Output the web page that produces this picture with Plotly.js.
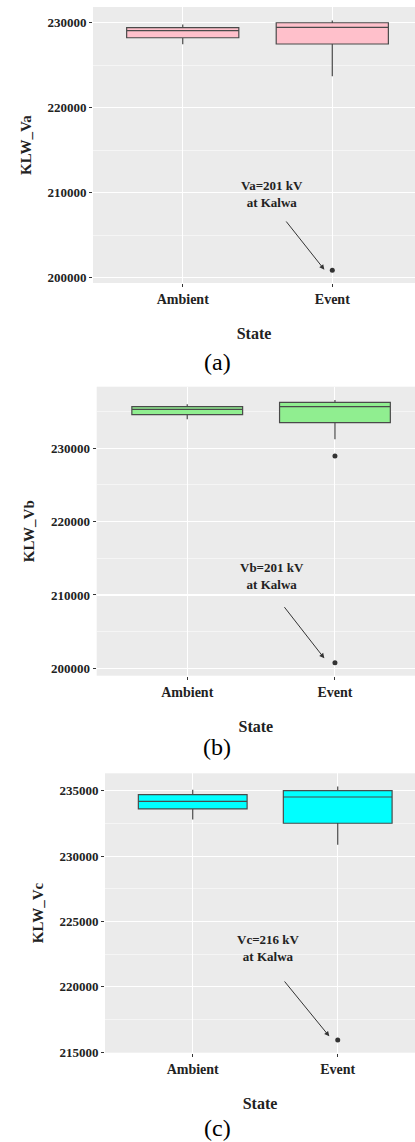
<!DOCTYPE html>
<html>
<head>
<meta charset="utf-8">
<script src="https://cdn.plot.ly/plotly-3.0.1.min.js"></script>
<style>html,body{margin:0;padding:0;background:#fff;}#chart{width:415px;height:1142px;}</style>
</head>
<body>
<div id="chart"></div>
<script>
// ---- data ----
const states = ['Ambient', 'Event'];

const va_q1 = [228235, 227500];
const va_med = [229060, 229450];
const va_q3 = [229412, 230000];
const va_lo = [227460, 223700];
const va_hi = [229800, 230270];
const va_out_x = ['Event'];
const va_out = [200870];

const vb_q1 = [234580, 233490];
const vb_med = [235320, 235670];
const vb_q3 = [235670, 236270];
const vb_lo = [233950, 231230];
const vb_hi = [236000, 236590];
const vb_out_x = ['Event', 'Event'];
const vb_out = [228950, 200760];

const vc_q1 = [233605, 232510];
const vc_med = [234185, 234520];
const vc_q3 = [234695, 235000];
const vc_lo = [232790, 230860];
const vc_hi = [235076, 235330];
const vc_out_x = ['Event'];
const vc_out = [215940];

const yTitles = ['KLW_Va', 'KLW_Vb', 'KLW_Vc'];
const notes = ['Va=201 kV<br>at Kalwa', 'Vb=201 kV<br>at Kalwa', 'Vc=216 kV<br>at Kalwa'];
const captions = ['(a)', '(b)', '(c)'];
const fills = ['#FFC0CB', '#90EE90', '#00FFFF'];

// ---- styling / layout ----
const serif = 'Liberation Serif';
const lineCol = '#4a4a4a';

function boxTrace(q1, med, q3, lo, hi, fill, ax) {
  return {
    type: 'box', x: states, q1: q1, median: med, q3: q3,
    lowerfence: lo, upperfence: hi,
    fillcolor: fill, line: {color: lineCol, width: 1.2},
    whiskerwidth: 0, width: 0.75, boxpoints: false,
    xaxis: 'x' + ax, yaxis: 'y' + ax, showlegend: false, hoverinfo: 'skip'
  };
}
function outTrace(xs, ys, ax) {
  return {
    type: 'scatter', mode: 'markers', x: xs, y: ys,
    marker: {color: '#333', size: 5},
    xaxis: 'x' + ax, yaxis: 'y' + ax, showlegend: false, hoverinfo: 'skip'
  };
}

const data = [
  boxTrace(va_q1, va_med, va_q3, va_lo, va_hi, fills[0], ''),
  outTrace(va_out_x, va_out, ''),
  boxTrace(vb_q1, vb_med, vb_q3, vb_lo, vb_hi, fills[1], '2'),
  outTrace(vb_out_x, vb_out, '2'),
  boxTrace(vc_q1, vc_med, vc_q3, vc_lo, vc_hi, fills[2], '3'),
  outTrace(vc_out_x, vc_out, '3')
];

function xax(dom, rng) {
  return {
    domain: dom, range: rng, type: 'category', categoryarray: states,
    showgrid: true, gridcolor: '#fff', gridwidth: 1, zeroline: false,
    ticks: 'outside', ticklen: 3, tickcolor: '#333', showline: false,
    tickfont: {family: serif, size: 14, color: '#222', weight: 'bold'},
    title: {text: '<b>State</b>', font: {family: serif, size: 16, color: '#222'}, standoff: 22},
    fixedrange: true
  };
}
function yax(dom, rng, dt, minor, anchor, title) {
  return {
    domain: dom, range: rng, anchor: anchor, dtick: dt, tickformat: 'd',
    showgrid: true, gridcolor: '#fff', gridwidth: 1.1, zeroline: false,
    minor: {dtick: minor, showgrid: true, gridcolor: '#fff', gridwidth: 0.5, ticks: ''},
    ticks: 'outside', ticklen: 3, tickcolor: '#333',
    tickfont: {family: serif, size: 13, color: '#222', weight: 'bold'},
    title: {text: '<b>' + title + '</b>', font: {family: serif, size: 15, color: '#222'}, standoff: 12},
    fixedrange: true
  };
}

const H = 1142;
function fy(px) { return 1 - px / H; }

const ann = [];
function note(ax, txt, tx, ty, hx, hy, sx, sy) {
  ann.push({xref: 'x' + ax, yref: 'y' + ax, x: tx, y: ty, text: '<b>' + txt + '</b>', showarrow: false,
    font: {family: serif, size: 13, color: '#222'}, align: 'center'});
  ann.push({xref: 'x' + ax, yref: 'y' + ax, axref: 'x' + ax, ayref: 'y' + ax,
    x: hx, y: hy, ax: sx, ay: sy, text: '', showarrow: true,
    arrowhead: 2, arrowsize: 1, arrowwidth: 1, arrowcolor: '#333'});
}
note('', notes[0], 0.595, 209900, 0.947, 200950, 0.684, 206790);
note('2', notes[1], 0.571, 212600, 0.928, 201360, 0.65, 208540);
note('3', notes[2], 0.52, 222940, 0.942, 216220, 0.625, 220530);

const capY = [361.7, 747, 1128];
captions.forEach((c, i) => ann.push({xref: 'paper', yref: 'paper', x: 217 / 415, y: fy(capY[i]),
  text: c, showarrow: false, font: {family: serif, size: 24, color: '#000'}, xanchor: 'center', yanchor: 'middle'}));

const layout = {
  width: 415, height: 1142,
  margin: {l: 0, r: 0, t: 0, b: 0},
  paper_bgcolor: '#fff', plot_bgcolor: '#EBEBEB',
  showlegend: false,
  xaxis: xax([93 / 415, 1], [-0.6, 1.553]),
  yaxis: yax([fy(283), fy(7)], [199380, 231850], 10000, 5000, 'x', yTitles[0]),
  xaxis2: Object.assign(xax([96.7 / 415, 1], [-0.613, 1.542]), {anchor: 'y2'}),
  yaxis2: yax([fy(675.7), fy(386.7)], [198990, 238400], 10000, 5000, 'x2', yTitles[1]),
  xaxis3: Object.assign(xax([105 / 415, 1], [-0.605, 1.533]), {anchor: 'y3'}),
  yaxis3: yax([fy(1052.7), fy(773.3)], [214970, 236330], 5000, 2500, 'x3', yTitles[2]),
  annotations: ann
};
layout.xaxis.anchor = 'y';

Plotly.newPlot('chart', data, layout, {displayModeBar: false, staticPlot: true});
</script>
</body>
</html>
